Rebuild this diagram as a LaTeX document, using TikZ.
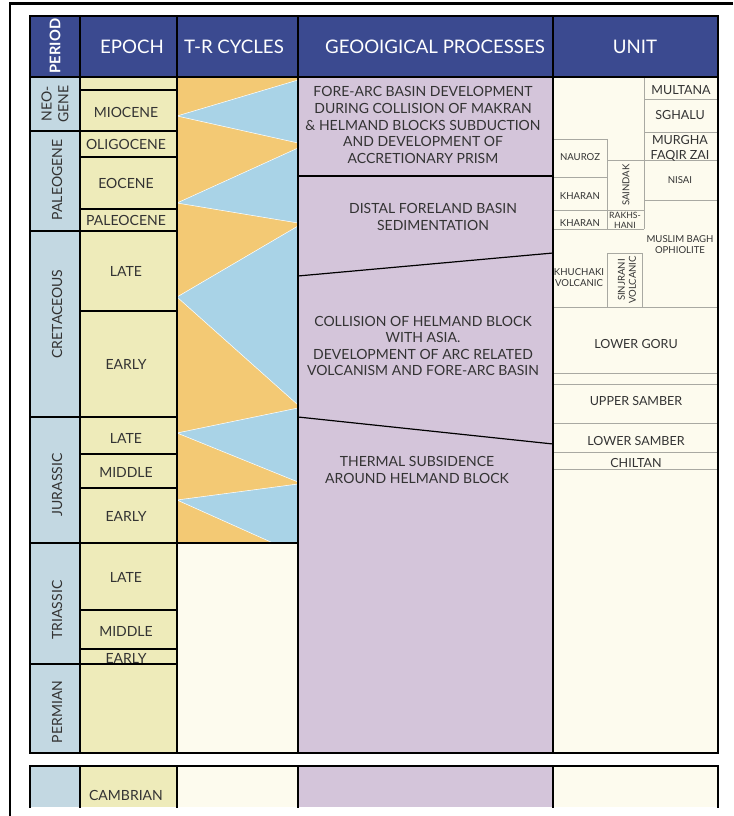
\documentclass[tikz,border=0pt]{standalone}
\usepackage{xcolor}
\usepackage{tkz-euclide}
\usepackage{fontspec}
\setmainfont{Lato}

\definecolor{cabecera}{HTML}{3B4A90}
\definecolor{periodo}{HTML}{C3D8E2}
\definecolor{epoca}{HTML}{EEEBBA}
\definecolor{naranja}{HTML}{F3C974}
\definecolor{celeste}{HTML}{A9D3E7}
\definecolor{lila}{HTML}{D4C5DA}
\definecolor{crema}{HTML}{FDFBEE}
\definecolor{texto}{HTML}{333333}
\definecolor{linea}{HTML}{A9A9A2}

\tikzset{
  titulo/.style={text=white, font=\fontsize{14}{16}\selectfont},
  rotulo/.style={text=texto, font=\fontsize{10.5}{12.4}\selectfont, align=center, inner sep=0pt},
  grande/.style={text=texto, font=\fontsize{9.4}{11.2}\selectfont, align=center, inner sep=0pt},
  chico/.style={text=texto, font=\fontsize{7.2}{8.2}\selectfont, align=center, inner sep=0pt},
  grueso/.style={line width=2.2pt, line cap=rect},
  fino/.style={line width=1.3pt},
  gris/.style={draw=linea, line width=0.6pt}
}

\begin{document}
\begin{tikzpicture}[x=0.75pt,y=-0.75pt]
        \useasboundingbox (0,0) rectangle (733,816);

        % Paso 1: Rellena el fondo de cada columna
        \fill[cabecera] (30,16) rectangle (718,77);
        \foreach \a/\b/\c in {30/80/periodo, 80/177/epoca, 177/298/crema, 298/553/lila, 553/718/crema}
          { \fill[\c] (\a,77) rectangle (\b,753);
            \fill[\c] (\a,766) rectangle (\b,807); }
        \fill[naranja] (177,77) rectangle (298,543);

        % Paso 2: Define los vértices de los ciclos T-R
        % (R y S en el borde derecho, L en el borde izquierdo)
        \tkzDefPoint(298,80){R1}  \tkzDefPoint(177,116){L1} \tkzDefPoint(298,143){S1}
        \tkzDefPoint(298,148){R2} \tkzDefPoint(177,203){L2} \tkzDefPoint(298,223){S2}
        \tkzDefPoint(298,226){R3} \tkzDefPoint(177,297){L3} \tkzDefPoint(298,405){S3}
        \tkzDefPoint(298,408){R4} \tkzDefPoint(177,433){L4} \tkzDefPoint(298,482){S4}
        \tkzDefPoint(298,484){R5} \tkzDefPoint(177,500){L5} \tkzDefPoint(298,543){S5}
        \tkzDefPoint(273,543){Q5}

        % Paso 3: Rellena los triángulos de regresión de celeste
        % con un filo blanco muy fino
        \foreach \j in {1,...,4} { \tkzFillPolygon[fill=celeste](R\j,L\j,S\j)
                                   \tkzDrawPolygon[color=white,line width=0.4pt](R\j,L\j,S\j)}
        \tkzFillPolygon[fill=celeste](R5,L5,Q5,S5)
        \tkzDrawPolygon[color=white,line width=0.4pt](R5,L5,Q5,S5)

        % Paso 4: Líneas que separan los procesos geológicos
        \tkzDefPoint(298,176){G1} \tkzDefPoint(553,176){G2}
        \tkzDefPoint(298,276){G3} \tkzDefPoint(553,253){G4}
        \tkzDefPoint(298,417){G5} \tkzDefPoint(553,444){G6}
        \tkzDrawSegments[line width=0.9pt,color=black](G1,G2 G3,G4 G5,G6)

        % Paso 5: Casillas de las unidades (líneas grises)
        \foreach \y in {307,373,384,423,452,469} { \draw[gris] (553,\y) -- (718,\y); }
        \draw[gris] (644,99) -- (718,99);
        \draw[gris] (644,132) -- (718,132);
        \draw[gris] (607,160) -- (718,160);
        \draw[gris] (644,200) -- (718,200);
        \draw[gris] (553,139) -- (607,139);
        \draw[gris] (553,177) -- (607,177);
        \draw[gris] (553,210) -- (644,210);
        \draw[gris] (553,229) -- (644,229);
        \draw[gris] (644,77) -- (644,229);
        \draw[gris] (607,139) -- (607,229);
        \draw[gris] (607,307) -- (607,253) -- (642,253) -- (642,307);

        % Paso 6: Separadores de épocas y de períodos
        \foreach \y in {90,131,157,209,231,311,417,454,488,543,610,649,664}
          { \draw[fino] (80,\y) -- (177,\y); }
        \foreach \y in {131,231,417,543,664} { \draw[fino] (30,\y) -- (80,\y); }
        \draw[fino] (177,543) -- (298,543);

        % Paso 7: Bordes gruesos de la tabla y marco exterior
        \foreach \x in {30,80,177,298,553,718}
          { \draw[grueso] (\x,16) -- (\x,753);
            \draw[grueso] (\x,766) -- (\x,807); }
        \foreach \y in {16,77,753,766} { \draw[grueso] (30,\y) -- (718,\y); }
        \draw[line width=2.2pt] (10,816) -- (10,3.5) -- (733,3.5);

        % Paso 8: Títulos de la cabecera
        \node[titulo, rotate=90, font=\bfseries\fontsize{11}{13}\selectfont] (hPeriodo) at (55,46) {PERIOD};
        \node[titulo] (hEpoca) at (132,47) {EPOCH};
        \node[titulo] (hCiclos) at (234,47) {T-R CYCLES};
        \node[titulo] (hProcesos) at (435,47) {GEOOIGICAL PROCESSES};
        \node[titulo] (hUnidad) at (635,47) {UNIT};

        % Paso 9: Períodos (texto vertical)
        \node[rotulo, rotate=90] (pNeogeno) at (55,104) {NEO-\\GENE};
        \node[rotulo, rotate=90] (pPaleogeno) at (57,180) {PALEOGENE};
        \node[rotulo, rotate=90] (pCretacico) at (57,314) {CRETACEOUS};
        \node[rotulo, rotate=90] (pJurasico) at (57,485) {JURASSIC};
        \node[rotulo, rotate=90] (pTriasico) at (57,610) {TRIASSIC};
        \node[rotulo, rotate=90] (pPermico) at (57,712) {PERMIAN};

        % Paso 10: Épocas
        \foreach \y/\t [count=\i] in {112/MIOCENE, 144/OLIGOCENE, 183/EOCENE, 220/PALEOCENE,
            271/LATE, 364/EARLY, 438/LATE, 472/MIDDLE, 516/EARLY,
            577/LATE, 631/MIDDLE, 658/EARLY, 795/CAMBRIAN}
          { \node[rotulo] (e\i) at (126,\y) {\t}; }

        % Paso 11: Procesos geológicos
        \node[rotulo] (gAntearco) at (423,125) {FORE-ARC BASIN DEVELOPMENT\\DURING COLLISION OF MAKRAN\\\& HELMAND BLOCKS SUBDUCTION\\AND DEVELOPMENT OF\\ACCRETIONARY PRISM};
        \node[rotulo] (gDistal) at (433,217) {DISTAL FORELAND BASIN\\SEDIMENTATION};
        \node[rotulo] (gColision) at (423,346) {COLLISION OF HELMAND BLOCK\\WITH ASIA.\\DEVELOPMENT OF ARC RELATED\\VOLCANISM AND FORE-ARC BASIN};
        \node[rotulo] (gTermica) at (417,470) {THERMAL SUBSIDENCE\\AROUND HELMAND BLOCK};

        % Paso 12: Unidades
        \node[grande] (uMultana) at (681,90) {MULTANA};
        \node[grande] (uSghalu) at (680,115) {SGHALU};
        \node[grande] (uMurgha) at (680,148.5) {MURGHA\\FAQIR ZAI};
        \node[chico] (uNisai) at (680,180) {NISAI};
        \node[chico] (uNauroz) at (580,157) {NAUROZ};
        \node[chico] (uKharanA) at (580,196) {KHARAN};
        \node[chico] (uKharanB) at (580,223) {KHARAN};
        \node[chico, font=\fontsize{6.5}{7.3}\selectfont] (uRakhshani) at (625,220.5) {RAKHS-\\HANI};
        \node[chico, rotate=90] (uSaindak) at (626,185) {SAINDAK};
        \node[chico] (uMuslim) at (680,244.5) {MUSLIM BAGH\\OPHIOLITE};
        \node[chico] (uKhuchaki) at (579,277.5) {KHUCHAKI\\VOLCANIC};
        \node[chico, rotate=90] (uSinjrani) at (627,280) {SINJRANI\\VOLCANIC};
        \node[grande] (uGoru) at (636,344) {LOWER GORU};
        \node[grande] (uSamberA) at (636,401) {UPPER SAMBER};
        \node[grande] (uSamberB) at (636,441) {LOWER SAMBER};
        \node[grande] (uChiltan) at (636,463) {CHILTAN};
\end{tikzpicture}
\end{document}
